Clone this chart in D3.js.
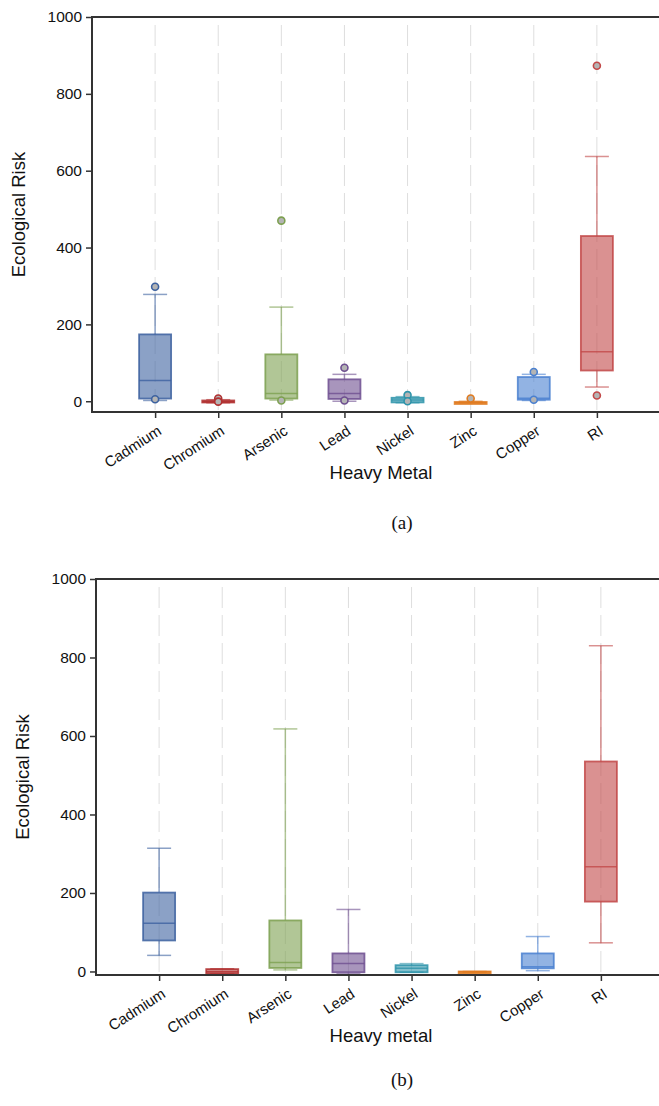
<!DOCTYPE html>
<html>
<head>
<meta charset="utf-8">
<script src="https://cdn.jsdelivr.net/npm/d3@7"></script>
<style>
  body { margin: 0; background: #fff; }
  svg { display: block; }
</style>
</head>
<body>
<div id="chart"></div>
<script>
// categories and their colours
const metals = ['Cadmium', 'Chromium', 'Arsenic', 'Lead', 'Nickel', 'Zinc', 'Copper', 'RI']
const colors = ['#3d62a0', '#b03030', '#7da050', '#6e4f90', '#2e94aa', '#e07b20', '#4a80d0', '#c24848']
const yTicks = [0, 200, 400, 600, 800, 1000]

// panel (a) - box statistics
const aLow = [2, -4, 3, 0, -4, -4, 2, 37]
const aQ1 = [7, -3, 7, 6, -3, -4, 4, 80]
const aMed = [54, -1, 20, 20, 3, -3, 8, 129]
const aQ3 = [174, 2, 122, 57, 9, -2, 63, 430]
const aHigh = [278, 4, 245, 70, 12, 0, 70, 637]
const aOutliers = [[298, 5], [7, -1], [470, 2], [87, 2], [16, 0], [7], [76, 4], [873, 15]]

// panel (b) - box statistics
const bLow = [41, -6, 4, -6, -2, -2, 2, 73]
const bQ1 = [79, -5, 9, -2, -2, -2, 8, 178]
const bMed = [123, -1, 23, 20, 8, -1, 12, 267]
const bQ3 = [201, 6, 130, 46, 16, 0, 46, 535]
const bHigh = [314, 7, 618, 158, 20, 0, 89, 830]
const bOutliers = [[], [], [], [], [], [], [], []]

const width = 659
const height = 1106

const svg = d3.select('#chart')
  .append('svg')
  .attr('width', width)
  .attr('height', height)
  .attr('viewBox', [0, 0, width, height])

svg.append('rect').attr('width', width).attr('height', height).attr('fill', '#fff')

drawPanel({
  left: 92, right: 660, top: 17, bottom: 412, yMin: -28,
  low: aLow, q1: aQ1, med: aMed, q3: aQ3, high: aHigh, outliers: aOutliers,
  xTitle: 'Heavy Metal', caption: '(a)', captionY: 529
})

drawPanel({
  left: 96, right: 664, top: 579, bottom: 975, yMin: -9,
  low: bLow, q1: bQ1, med: bMed, q3: bQ3, high: bHigh, outliers: bOutliers,
  xTitle: 'Heavy metal', caption: '(b)', captionY: 1086
})

function drawPanel(p) {
  const x = d3.scalePoint()
    .domain(metals)
    .range([p.left, p.right])
    .padding(1)

  const y = d3.scaleLinear()
    .domain([p.yMin, 1000])
    .range([p.bottom, p.top])

  const g = svg.append('g')
  const boxW = 32
  const capW = 24

  // dashed vertical guides
  g.selectAll('.guide')
    .data(metals)
    .join('line')
    .attr('x1', d => x(d)).attr('x2', d => x(d))
    .attr('y1', p.top + 8).attr('y2', p.bottom)
    .attr('stroke', '#dedede')
    .attr('stroke-width', 1)
    .attr('stroke-dasharray', '21,7')

  const rows = metals.map((m, i) => ({
    name: m, color: colors[i],
    low: p.low[i], q1: p.q1[i], med: p.med[i], q3: p.q3[i], high: p.high[i],
    outliers: p.outliers[i]
  }))

  const box = g.selectAll('.box')
    .data(rows)
    .join('g')
    .attr('class', 'box')

  // whiskers
  box.append('line')
    .attr('x1', d => x(d.name)).attr('x2', d => x(d.name))
    .attr('y1', d => y(d.high)).attr('y2', d => y(d.q3))
    .attr('stroke', d => d.color).attr('stroke-opacity', 0.6).attr('stroke-width', 1.5)
  box.append('line')
    .attr('x1', d => x(d.name)).attr('x2', d => x(d.name))
    .attr('y1', d => y(d.q1)).attr('y2', d => y(d.low))
    .attr('stroke', d => d.color).attr('stroke-opacity', 0.6).attr('stroke-width', 1.5)
  box.append('line')
    .attr('x1', d => x(d.name) - capW / 2).attr('x2', d => x(d.name) + capW / 2)
    .attr('y1', d => y(d.high)).attr('y2', d => y(d.high))
    .attr('stroke', d => d.color).attr('stroke-opacity', 0.6).attr('stroke-width', 1.5)
  box.append('line')
    .attr('x1', d => x(d.name) - capW / 2).attr('x2', d => x(d.name) + capW / 2)
    .attr('y1', d => y(d.low)).attr('y2', d => y(d.low))
    .attr('stroke', d => d.color).attr('stroke-opacity', 0.6).attr('stroke-width', 1.5)

  // boxes
  box.append('rect')
    .attr('x', d => x(d.name) - boxW / 2)
    .attr('width', boxW)
    .attr('y', d => y(d.q3))
    .attr('height', d => Math.max(2, y(d.q1) - y(d.q3)))
    .attr('fill', d => d.color)
    .attr('fill-opacity', 0.6)
    .attr('stroke', d => d.color)
    .attr('stroke-opacity', 0.85)
    .attr('stroke-width', 1.8)

  // medians
  box.append('line')
    .attr('x1', d => x(d.name) - boxW / 2).attr('x2', d => x(d.name) + boxW / 2)
    .attr('y1', d => y(d.med)).attr('y2', d => y(d.med))
    .attr('stroke', d => d.color).attr('stroke-opacity', 0.8).attr('stroke-width', 1.5)

  // outliers
  box.selectAll('circle')
    .data(d => d.outliers.map(v => ({ v, color: d.color, name: d.name })))
    .join('circle')
    .attr('cx', d => x(d.name))
    .attr('cy', d => y(d.v))
    .attr('r', 3.5)
    .attr('fill', '#b4b4b4')
    .attr('stroke', d => d.color)
    .attr('stroke-width', 1.6)

  // y axis
  const yAxis = g.append('g')
    .attr('transform', `translate(${p.left},0)`)
    .call(d3.axisLeft(y).tickValues(yTicks).tickFormat(d3.format('d')).tickSize(6).tickPadding(4))
  yAxis.select('.domain').remove()
  yAxis.selectAll('line').attr('stroke', '#333').attr('stroke-width', 1.5)
  yAxis.selectAll('text')
    .style('font-family', '"Liberation Sans", Arial, sans-serif')
    .style('font-size', '15.5px')
    .attr('fill', '#111')

  // x axis
  const xAxis = g.append('g')
    .attr('transform', `translate(0,${p.bottom})`)
    .call(d3.axisBottom(x).tickSize(6))
  xAxis.select('.domain').remove()
  xAxis.selectAll('line').attr('stroke', '#333').attr('stroke-width', 1.5)
  xAxis.selectAll('text')
    .style('font-family', '"Liberation Sans", Arial, sans-serif')
    .style('font-size', '15px')
    .attr('fill', '#111')
    .attr('text-anchor', 'end')
    .attr('dy', '0.35em')
    .attr('y', 0)
    .attr('transform', 'translate(4,17) rotate(-33)')

  // frame: left, top, bottom
  g.append('path')
    .attr('d', `M${p.right},${p.top}H${p.left}V${p.bottom}H${p.right}`)
    .attr('fill', 'none')
    .attr('stroke', '#333')
    .attr('stroke-width', 2)

  // titles
  g.append('text')
    .attr('transform', `translate(${p.left - 67},${(p.top + p.bottom) / 2}) rotate(-90)`)
    .attr('text-anchor', 'middle')
    .style('font-family', '"Liberation Sans", Arial, sans-serif')
    .style('font-size', '18.5px')
    .attr('fill', '#111')
    .text('Ecological Risk')

  g.append('text')
    .attr('x', 381)
    .attr('y', p.bottom + 67)
    .attr('text-anchor', 'middle')
    .style('font-family', '"Liberation Sans", Arial, sans-serif')
    .style('font-size', '18.5px')
    .attr('fill', '#111')
    .text(p.xTitle)

  g.append('text')
    .attr('x', 402)
    .attr('y', p.captionY)
    .attr('text-anchor', 'middle')
    .style('font-family', '"Liberation Serif", "Times New Roman", serif')
    .style('font-size', '19px')
    .attr('fill', '#111')
    .text(p.caption)
}
</script>
</body>
</html>
